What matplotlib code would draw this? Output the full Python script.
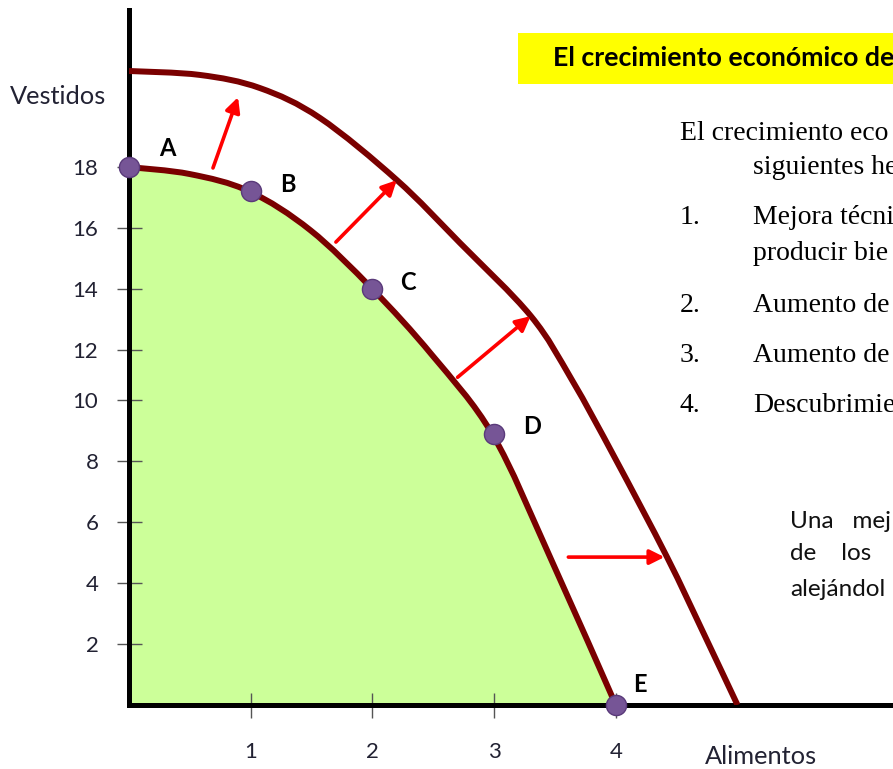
import numpy as np
import matplotlib
matplotlib.use("Agg")
import matplotlib.pyplot as plt
from matplotlib.patches import Rectangle, PathPatch
from matplotlib.path import Path

# puntos de la FPP original
puntos = ["A", "B", "C", "D", "E"]
alimentos = [0, 1, 2, 3, 4]
vestidos = [18, 17.2, 14, 8.9, 0]

# curva interior
fpp_x = [0, 0.50, 0.99, 1.49, 2.0, 2.49, 2.99, 3.46, 4.0]
fpp_y = [18, 17.77, 17.2, 15.93, 14, 11.8, 8.85, 4.85, 0]

# curva exterior (despues del crecimiento)
fpp2_x = [0, 0.583, 1.076, 1.569, 2.202, 2.72, 3.303, 3.64, 3.993, 4.421, 4.717, 5.0]
fpp2_y = [21.15, 21.02, 20.59, 19.61, 17.57, 15.51, 13.11, 10.8, 8.1, 4.85, 2.39, 0]

# flechas de desplazamiento (inicio, fin)
flechas = [((0.69, 17.97), (0.896, 20.29)),
           ((1.70, 15.54), (2.20, 17.57)),
           ((2.70, 10.91), (3.30, 13.11)),
           ((3.61, 4.85), (4.40, 4.85))]

yticks = [2, 4, 6, 8, 10, 12, 14, 16, 18]
xticks = [1, 2, 3, 4]

W, H = 893, 769
fig = plt.figure(figsize=(W / 100, H / 100), dpi=100)
ax = fig.add_axes([129 / W, 64 / H, 764 / W, 695 / H])

# el eje vertical del dibujo no es uniforme entre 10 y 12
Y_REAL = [-10, 0, 10, 12, 40]
Y_DIB = [-10, 0, 10, 11.64, 39.64]

def fwd(y):
    return np.interp(y, Y_REAL, Y_DIB)

def inv(u):
    return np.interp(u, Y_DIB, Y_REAL)

ax.set_yscale("function", functions=(fwd, inv))
ax.set_xlim(0, 764 / 121.7)
ax.set_ylim(0, inv(22.79))


def curva_suave(xs, ys):
    # curva bezier que pasa por los puntos leidos
    p = np.column_stack([xs, fwd(np.array(ys, dtype=float))])
    ext = np.vstack([p[0], p, p[-1]])
    verts = [p[0]]
    codes = [Path.MOVETO]
    for i in range(len(p) - 1):
        p0, p1, p2, p3 = ext[i], ext[i + 1], ext[i + 2], ext[i + 3]
        verts += [p1 + (p2 - p0) / 6, p2 - (p3 - p1) / 6, p2]
        codes += [Path.CURVE4] * 3
    verts = np.array(verts)
    verts[:, 1] = inv(verts[:, 1])
    return verts, codes


rojo = "#7a0000"
v, c = curva_suave(fpp_x, fpp_y)
relleno = Path(np.vstack([v, [[0, 0], [0, 0]]]), c + [Path.LINETO, Path.CLOSEPOLY])
ax.add_patch(PathPatch(relleno, facecolor="#ccff99", edgecolor="none", zorder=1))
ax.add_patch(PathPatch(Path(v, c), facecolor="none", edgecolor=rojo, lw=4.3,
                       capstyle="butt", zorder=3))
v2, c2 = curva_suave(fpp2_x, fpp2_y)
ax.add_patch(PathPatch(Path(v2, c2), facecolor="none", edgecolor=rojo, lw=4.3,
                       capstyle="butt", zorder=3))

for (x0, y0), (x1, y1) in flechas:
    ax.annotate("", xy=(x1, y1), xytext=(x0, y0),
                arrowprops=dict(arrowstyle="-|>", color="red", lw=2.6,
                                mutation_scale=22, shrinkA=0, shrinkB=0),
                zorder=4)

ax.scatter(alimentos, vestidos, s=210, color="#765596", edgecolors="#5a3a7a",
           linewidths=1, zorder=6, clip_on=False)

offsets = {"A": (38, 19), "B": (37, 7), "C": (36, 7), "D": (38, 7), "E": (24, 21)}
for p, x, y in zip(puntos, alimentos, vestidos):
    ax.annotate(p, (x, y), xytext=offsets[p], textcoords="offset pixels",
                ha="center", va="center", fontsize=17, fontweight="bold",
                family="Lato", color="black", zorder=7)

for s in ["top", "right"]:
    ax.spines[s].set_visible(False)
for s in ["left", "bottom"]:
    ax.spines[s].set_linewidth(3.6)
    ax.spines[s].set_color("black")

ax.set_yticks(yticks)
ax.set_yticklabels([str(t) for t in yticks])
ax.set_xticks(xticks)
ax.set_xticklabels([str(t) for t in xticks])
ax.tick_params(direction="inout", length=18, width=1, color="#555555",
               labelsize=16, labelcolor="#222233")
ax.tick_params(axis="y", pad=13)
ax.tick_params(axis="x", pad=18)
for lab in ax.get_xticklabels() + ax.get_yticklabels():
    lab.set_family("Lato")

fig.text(10 / W, 1 - 97 / H, "Vestidos", fontsize=18.3, family="Lato",
         color="#222233", ha="left", va="center")
fig.text(705 / W, 1 - 757 / H, "Alimentos", fontsize=18.3, family="Lato",
         color="#222233", ha="left", va="center")

# recuadro amarillo del titulo
fig.patches.append(Rectangle((518 / W, 1 - 84 / H), (W - 518) / W, 51 / H,
                             transform=fig.transFigure, facecolor="#ffff00",
                             edgecolor="none", zorder=0))
fig.text(553 / W, 1 - 58 / H, "El crecimiento económico de",
         fontsize=19.3, fontweight="bold", family="Lato", color="black",
         ha="left", va="center")

# texto a la derecha (cortado por el borde como en el original)
serif = "Liberation Serif"
fs = 20
fig.text(680 / W, 1 - 133 / H, "El crecimiento eco",
         fontsize=fs, family=serif, ha="left", va="center")
fig.text(753 / W, 1 - 168 / H, "siguientes he",
         fontsize=fs, family=serif, ha="left", va="center")
items = [("1.", "Mejora técni", 218),
         ("", "producir bie", 253),
         ("2.", "Aumento de", 305),
         ("3.", "Aumento de", 356),
         ("4.", "Descubrimie", 406)]
for num, txt, py in items:
    if num:
        fig.text(680 / W, 1 - py / H, num, fontsize=fs, family=serif,
                 ha="left", va="center")
    fig.text(753 / W, 1 - py / H, txt, fontsize=fs, family=serif,
             ha="left", va="center")

notas = [("Una   mej", 522), ("de    los", 553), ("alejándol", 590)]
for txt, py in notas:
    fig.text(790 / W, 1 - py / H, txt, fontsize=17.5, family="Lato",
             color="#111111", ha="left", va="center")

fig.savefig("out.png", dpi=100)
